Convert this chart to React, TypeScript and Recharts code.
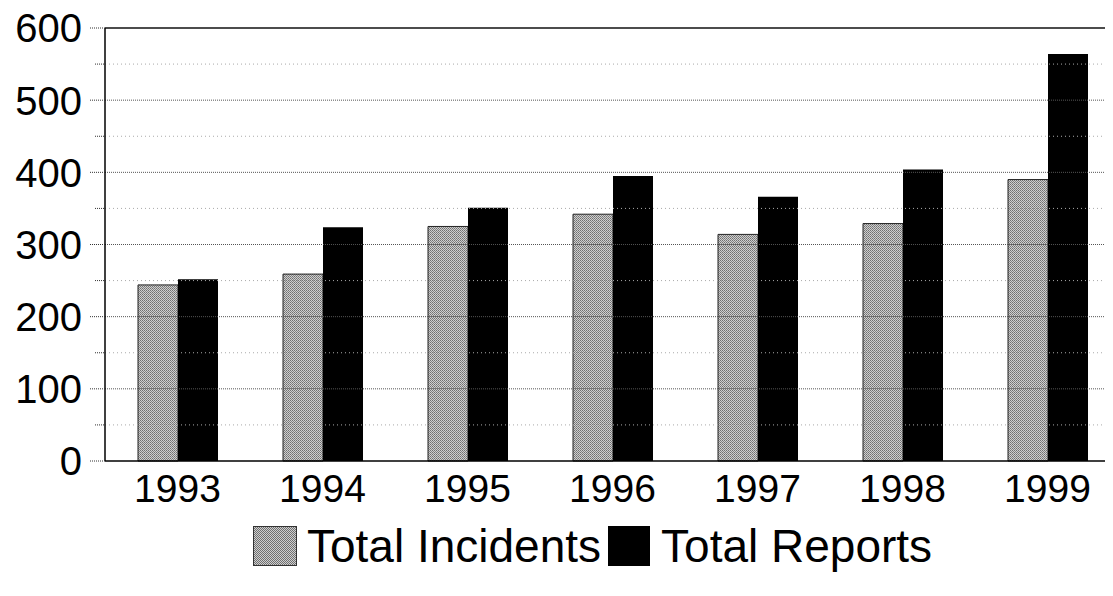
import React from 'react';
import { BarChart, Bar, XAxis, YAxis, ReferenceLine } from 'recharts';

const years = ['1993', '1994', '1995', '1996', '1997', '1998', '1999'];
const totalIncidents = [244, 259, 325, 342, 314, 329, 390];
const totalReports = [252, 324, 351, 395, 366, 404, 564];
const yTicks = [0, 50, 100, 150, 200, 250, 300, 350, 400, 450, 500, 550, 600];
const majorGrid = [100, 200, 300, 400, 500];
const minorGrid = [50, 150, 250, 350, 450, 550];
const seriesNames = ['Total Incidents', 'Total Reports'];

const data = years.map((y, i) => ({ year: y, incidents: totalIncidents[i], reports: totalReports[i] }));

const FONT = '"Liberation Sans", Arial, sans-serif';
const PLOT_LEFT = 105;

const YTick = (props: any) => {
  const { y, payload } = props;
  const v = payload.value;
  const major = v % 100 === 0;
  return (
    <g>
      <line x1={major ? PLOT_LEFT - 15 : PLOT_LEFT - 10} x2={PLOT_LEFT} y1={y} y2={y} stroke="#333" strokeDasharray="1 1" />
      {major && (
        <text x={PLOT_LEFT - 23} y={y} dy="0.36em" textAnchor="end" fontSize={40} fontFamily={FONT} fill="#000">
          {v}
        </text>
      )}
    </g>
  );
};

const XTick = (props: any) => {
  const { x, y, payload } = props;
  return (
    <text x={x} y={y} dy={33} textAnchor="middle" fontSize={39} fontFamily={FONT} fill="#000">
      {payload.value}
    </text>
  );
};

export default function App() {
  return (
    <div style={{ position: 'relative', margin: '-8px 0 0 -8px', width: 1113, height: 596, overflow: 'hidden', background: '#fff' }}>
      <BarChart
        width={1125}
        height={596}
        data={data}
        margin={{ top: 28, right: 5, left: 25, bottom: 95 }}
        barSize={40}
        barGap={0}
      >
        <defs>
          <pattern id="greyTex" width="2" height="2" patternUnits="userSpaceOnUse">
            <rect width="2" height="2" fill="#cfcfcf" />
            <rect width="1" height="1" fill="#707070" />
            <rect x="1" y="1" width="1" height="1" fill="#858585" />
          </pattern>
        </defs>
        {minorGrid.map((v) => (
          <ReferenceLine key={'m' + v} y={v} stroke="#aaa" strokeDasharray="1 3" />
        ))}
        {majorGrid.map((v) => (
          <ReferenceLine key={'M' + v} y={v} stroke="#555" strokeDasharray="1 1" />
        ))}
        <ReferenceLine y={600} stroke="#111" strokeWidth={1.5} />
        <XAxis dataKey="year" axisLine={{ stroke: '#000', strokeWidth: 1.5 }} tickLine={false} height={40} tick={<XTick />} interval={0} />
        <YAxis
          domain={[0, 600]}
          ticks={yTicks}
          width={80}
          axisLine={{ stroke: '#000', strokeWidth: 1.5 }}
          tickLine={false}
          tick={<YTick />}
          interval={0}
        />
        <Bar dataKey="incidents" name={seriesNames[0]} fill="url(#greyTex)" stroke="#222" strokeWidth={1} isAnimationActive={false} />
        <Bar dataKey="reports" name={seriesNames[1]} fill="#000" isAnimationActive={false} />
      </BarChart>
      <div
        style={{
          position: 'absolute',
          left: 253,
          top: 524,
          display: 'flex',
          alignItems: 'center',
          fontFamily: FONT,
          fontSize: 46,
          color: '#000',
          whiteSpace: 'nowrap',
          lineHeight: '44px',
        }}
      >
        <span style={{ display: 'inline-block', width: 44, height: 40, background: 'repeating-conic-gradient(#707070 0% 25%, #cfcfcf 0% 50%) 0 0 / 2px 2px', border: '1px solid #333', boxSizing: 'border-box', marginRight: 10 }} />
        <span style={{ marginRight: 7 }}>{seriesNames[0]}</span>
        <span style={{ display: 'inline-block', width: 42, height: 40, background: '#000', marginRight: 11 }} />
        <span>{seriesNames[1]}</span>
      </div>
    </div>
  );
}
